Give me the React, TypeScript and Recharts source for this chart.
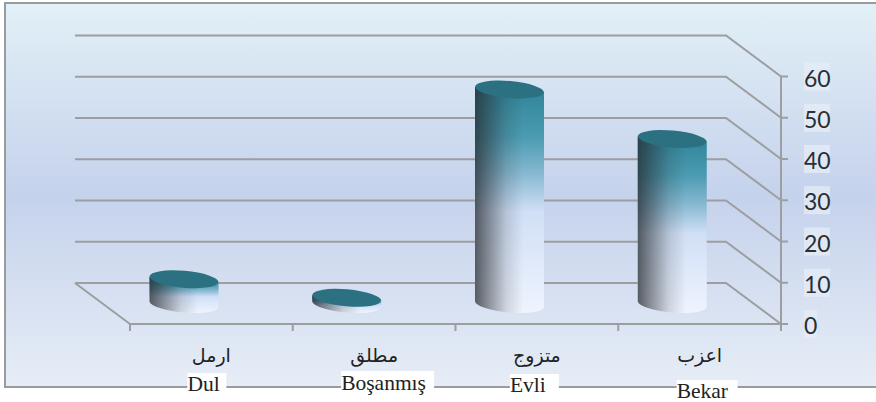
import { BarChart, Bar, XAxis, YAxis, CartesianGrid } from "recharts";

const arabicLabels = ["ارمل", "مطلق", "متزوج", "اعزب"];
const turkishLabels = ["Dul", "Boşanmış", "Evli", "Bekar"];
const values = [6, 1.5, 52, 40];
const yTicks = [0, 10, 20, 30, 40, 50, 60];

const data = turkishLabels.map((name, i) => ({ name, arabic: arabicLabels[i], value: values[i] }));

// depth of the fake 3d floor
const DEPTH_X = 55;
const DEPTH_Y = 41;
const BAND = 162.75;
const LINE = "#9d9e9f";

// white patches behind the turkish labels, they sit a bit off-centre in the source
const patches: Record<string, { dx: number; top: number; w: number; h: number; base: number }> = {
  Dul: { dx: -24, top: 373, w: 39, h: 20, base: 391 },
  "Boşanmış": { dx: -33, top: 371, w: 93, h: 22, base: 390 },
  Evli: { dx: -27, top: 374, w: 49, h: 22, base: 392 },
  Bekar: { dx: -23, top: 380, w: 61, h: 22, base: 398 },
};

function GridLine(props: any) {
  const { x1, x2, y1 } = props;
  const backY = y1 - DEPTH_Y;
  return (
    <g key={props.key}>
      <polyline
        points={`${x1 - DEPTH_X},${backY} ${x2 - DEPTH_X},${backY} ${x2},${y1}`}
        fill="none"
        stroke={LINE}
        strokeWidth={2}
      />
      {Math.abs(y1 - 324) < 1 && (
        <line x1={x1 - DEPTH_X} y1={backY} x2={x1} y2={y1} stroke={LINE} strokeWidth={2} />
      )}
    </g>
  );
}

function Cylinder(props: any) {
  const { x, y, width, height } = props;
  const cx = x + width / 2 - 27.5;
  const top = y - 20;
  const bottom = y + height - 20;
  const rx = width / 2;
  const ry = 8.5;
  const tilt = 5;
  const dy = 2.5;
  const body = `M${cx - rx},${top - dy} L${cx - rx},${bottom - dy} A${rx},${ry} ${tilt} 0 0 ${cx + rx},${bottom + dy} L${cx + rx},${top + dy} Z`;
  return (
    <g>
      <path d={body} fill="url(#cylColor)" />
      <path d={body} fill="url(#cylShade)" />
      <ellipse
        cx={cx}
        cy={top}
        rx={rx}
        ry={ry}
        fill="#2b7182"
        transform={`rotate(${tilt} ${cx} ${top})`}
      />
    </g>
  );
}

function CategoryTick(props: any) {
  const { x, payload, index } = props;
  const name = payload.value;
  const p = patches[name];
  return (
    <g>
      <line x1={x - BAND / 2} y1={324} x2={x - BAND / 2} y2={331} stroke={LINE} strokeWidth={2} />
      {index === turkishLabels.length - 1 && (
        <line x1={x + BAND / 2} y1={324} x2={x + BAND / 2} y2={331} stroke={LINE} strokeWidth={2} />
      )}
      <text x={x} y={362} textAnchor="middle" fontFamily="DejaVu Sans" fontSize={19} fill="#222">
        {arabicLabels[turkishLabels.indexOf(name)]}
      </text>
      <rect x={x + p.dx} y={p.top} width={p.w} height={p.h} fill="#fff" />
      <text x={x + p.dx} y={p.base} fontFamily="Liberation Serif" fontSize={21.5} fill="#222">
        {name}
      </text>
    </g>
  );
}

function ValueTick(props: any) {
  const { y, payload } = props;
  const label = String(payload.value);
  const w = label.length > 1 ? 26 : 13;
  return (
    <g>
      <rect x={804} y={y - 14} width={w} height={28} fill="#e6ecf6" opacity={0.75} />
      <text x={804} y={y + 10} fontFamily="Lato" fontSize={23} fill="#2a2e35">
        {label}
      </text>
    </g>
  );
}

export default function App() {
  return (
    <div style={{ position: "absolute", left: 0, top: 0, width: 876, height: 402, background: "#fff", overflow: "hidden" }}>
      <div
        style={{
          position: "absolute",
          left: 4,
          top: 2,
          width: 900,
          height: 382,
          border: "2px solid #9a9b9d",
          background: "linear-gradient(180deg, #e2f0f7 0%, #c5d2ec 50%, #e6edf6 100%)",
        }}
      />
      <div style={{ position: "absolute", left: 0, top: 0 }}>
        <BarChart
          width={876}
          height={402}
          data={data}
          margin={{ top: 76.5, right: 0, bottom: 0, left: 130 }}
          barCategoryGap={47}
        >
          <defs>
            <linearGradient id="cylColor" x1="0" y1="0" x2="0" y2="1">
              <stop offset="0%" stopColor="#2f8397" />
              <stop offset="22%" stopColor="#4b9bb1" />
              <stop offset="38%" stopColor="#85b8d0" />
              <stop offset="55%" stopColor="#d0dff6" />
              <stop offset="100%" stopColor="#eff4fe" />
            </linearGradient>
            <linearGradient id="cylShade" x1="0" y1="0" x2="1" y2="0">
              <stop offset="0%" stopColor="#262b30" stopOpacity={0.75} />
              <stop offset="15%" stopColor="#262b30" stopOpacity={0.55} />
              <stop offset="45%" stopColor="#262b30" stopOpacity={0.16} />
              <stop offset="70%" stopColor="#262b30" stopOpacity={0} />
              <stop offset="100%" stopColor="#262b30" stopOpacity={0} />
            </linearGradient>
          </defs>
          <CartesianGrid vertical={false} horizontal={GridLine as any} />
          <XAxis
            dataKey="name"
            height={78}
            interval={0}
            tickLine={false}
            axisLine={{ stroke: LINE, strokeWidth: 2 }}
            tick={CategoryTick as any}
          />
          <YAxis
            orientation="right"
            width={95}
            domain={[0, 60]}
            ticks={yTicks}
            interval={0}
            tickSize={7}
            tickLine={{ stroke: LINE, strokeWidth: 2 }}
            axisLine={{ stroke: LINE, strokeWidth: 2 }}
            tick={ValueTick as any}
          />
          <Bar dataKey="value" isAnimationActive={false} shape={Cylinder as any} />
        </BarChart>
      </div>
    </div>
  );
}
